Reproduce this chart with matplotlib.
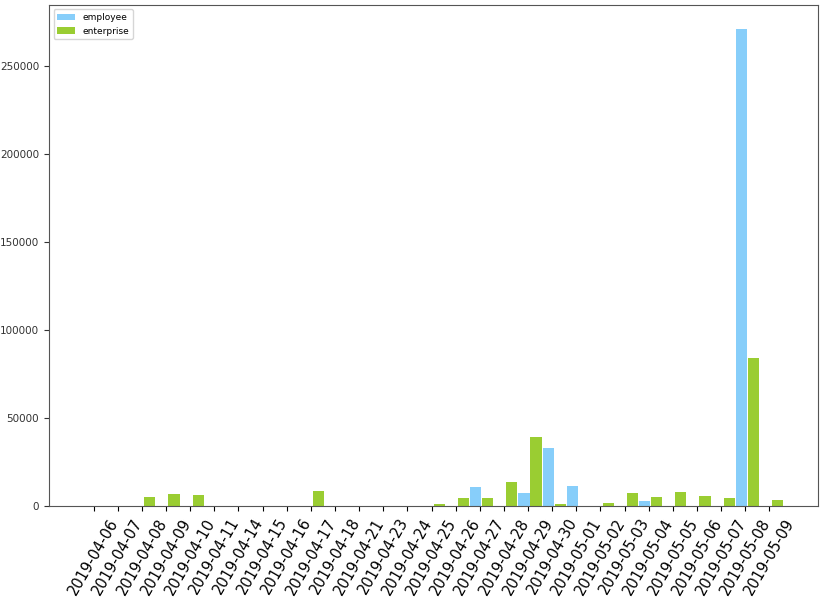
import matplotlib.pyplot as plt
import numpy as np

dates = [
    "2019-04-06", "2019-04-07", "2019-04-08", "2019-04-09", "2019-04-10",
    "2019-04-11", "2019-04-14", "2019-04-15", "2019-04-16", "2019-04-17",
    "2019-04-18", "2019-04-21", "2019-04-23", "2019-04-24", "2019-04-25",
    "2019-04-26", "2019-04-27", "2019-04-28", "2019-04-29", "2019-04-30",
    "2019-05-01", "2019-05-02", "2019-05-03", "2019-05-04", "2019-05-05",
    "2019-05-06", "2019-05-07", "2019-05-08", "2019-05-09",
]
employee = [
    0, 0, 0, 0, 0, 0, 0, 0, 0, 0, 0, 0, 0, 0, 0,
    0, 10600, 0, 7200, 33000, 11400, 0, 0, 2800, 0, 0, 0, 271000, 0,
]
enterprise = [
    0, 0, 4900, 6600, 6100, 0, 0, 0, 0, 8500, 0, 0, 0, 0, 1100,
    4400, 4400, 13400, 39200, 1000, 0, 1900, 7600, 5300, 8000, 5900, 4400, 84000, 3400,
]

x = np.arange(len(dates))
width = 0.46

fig = plt.figure(figsize=(8.25, 5.99), dpi=100)
ax = fig.add_axes([0.0594, 0.1553, 0.932, 0.8364])
ax.bar(x - 0.4, employee, width=width, align="edge", color="lightskyblue", label="employee")
ax.bar(x + 0.1, enterprise, width=width, align="edge", color="yellowgreen", label="enterprise")

ax.set_xticks(x)
ax.set_xticklabels(dates, rotation=60, fontsize=10.5)
ax.tick_params(axis="y", labelsize=7.5, colors="#333333")
for s in ax.spines.values():
    s.set_color("#555555")
ax.legend(loc="upper left", fontsize=6.5)

fig.savefig("out.png", dpi=100)
